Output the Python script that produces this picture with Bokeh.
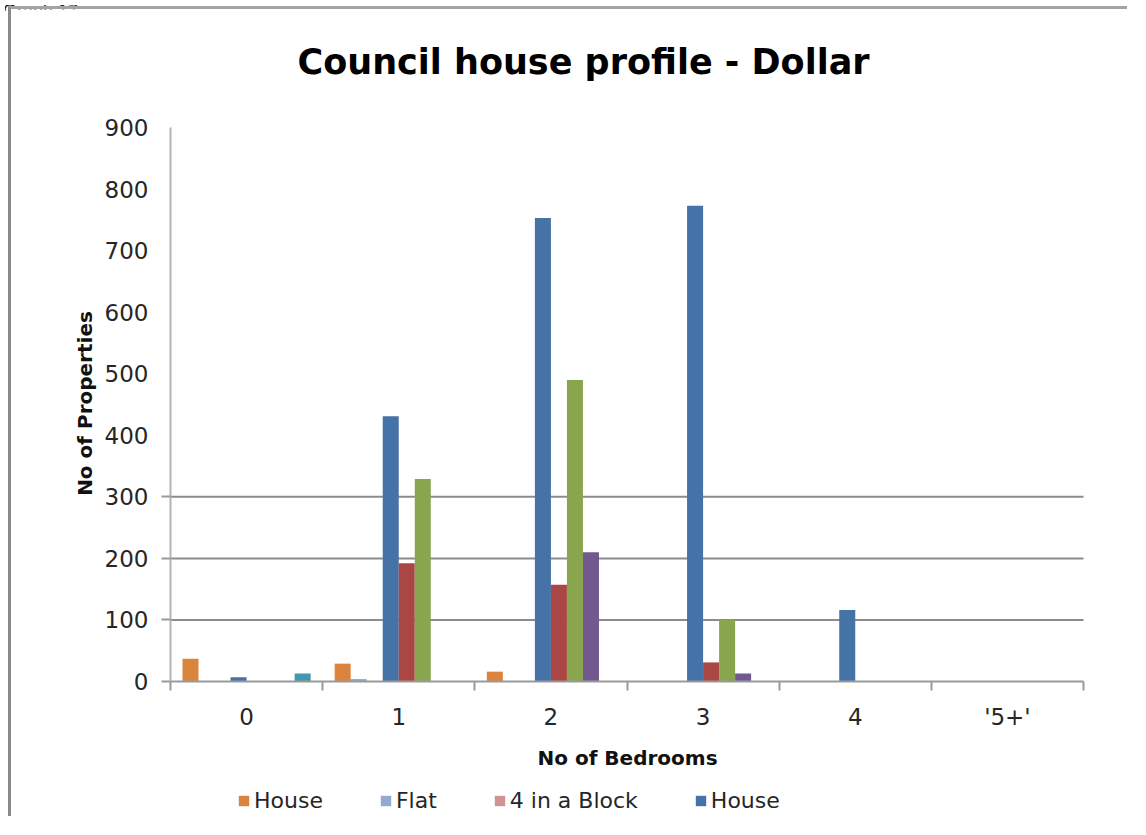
import math
from bokeh.plotting import figure
from bokeh.models import Range1d, FixedTicker, Legend, LegendItem, Div, Label
from bokeh.layouts import column
from bokeh.embed import file_html
from bokeh.resources import INLINE

# ---- data ----
categories = ["0", "1", "2", "3", "4", "'5+'"]
house_a = [37, 29, 16, 0, 0, 0]
flat = [0, 4, 0, 0, 0, 0]
block4 = [0, 0, 0, 0, 0, 0]
house_b = [7, 431, 753, 773, 116, 0]
series_red = [0, 192, 157, 31, 0, 0]
series_green = [0, 329, 490, 100, 0, 0]
series_purple = [0, 0, 210, 13, 0, 0]
series_teal = [13, 0, 0, 0, 0, 0]

series_values = [house_a, flat, block4, house_b, series_red, series_green, series_purple, series_teal]
series_names = ["House", "Flat", "4 in a Block", "House", "", "", "", ""]
series_colors = ["#DB843D", "#93A9CF", "#D19392", "#4572A7", "#AA4643", "#89A54E", "#71588F", "#4198AF"]
y_ticks = [0, 100, 200, 300, 400, 500, 600, 700, 800, 900]
grid_ticks = [100, 200, 300]
y_max = 900
title_text = "Council house profile - Dollar"
x_title = "No of Bedrooms"
y_title = "No of Properties"

# ---- layout (page pixels) ----
W, H = 1119, 810
CANVAS_X, CANVAS_Y = 11, 9              # canvas origin on the page
AX_LEFT, AX_RIGHT = 170, 1083           # plot area edges
AX_TOP, AX_ZERO = 127, 681              # value y_max and value 0
FONT = "DejaVu Sans"

ncat = len(categories)
px_x = (AX_RIGHT - AX_LEFT) / ncat
px_y = (AX_ZERO - AX_TOP) / y_max
x_start = -(AX_LEFT - CANVAS_X) / px_x
x_end = ncat + (CANVAS_X + W - AX_RIGHT) / px_x
y_end = y_max + (AX_TOP - CANVAS_Y) / px_y
y_start = -(CANVAS_Y + H - AX_ZERO) / px_y


def dx(px):
    return (px - AX_LEFT) / px_x


def dy(py):
    return (AX_ZERO - py) / px_y


p = figure(width=W, height=H, output_backend="svg", toolbar_location=None, title=None,
           x_range=Range1d(x_start, x_end), y_range=Range1d(y_start, y_end),
           min_border_left=0, min_border_right=0, min_border_top=0, min_border_bottom=0)
p.margin = (-10, 0, 0, 8)
p.styles = {"border-left": "3px solid #8a8a8a", "border-top": "3px solid #a3a3a3"}
p.outline_line_color = None
p.background_fill_color = "white"
p.border_fill_color = "white"
p.xgrid.visible = False
p.ygrid.visible = False

# horizontal gridlines (only 100-300 are drawn in the original)
p.segment(x0=[0] * len(grid_ticks), x1=[ncat] * len(grid_ticks), y0=grid_ticks, y1=grid_ticks,
          line_color="#8c8c8c", line_width=2)

n = len(series_values)
w = 1.0 / (n + 1.5)
renderers = []
for i, (vals, col) in enumerate(zip(series_values, series_colors)):
    xs = [k + 0.75 * w + (i + 0.5) * w for k in range(ncat)]
    r = p.vbar(x=xs, top=vals, bottom=0, width=w, fill_color=col, line_color=None)
    renderers.append(r)

# x axis (sits on value 0)
xa = p.xaxis[0]
xa.fixed_location = 0
xa.bounds = (0, ncat)
xa.ticker = FixedTicker(ticks=[k + 0.5 for k in range(ncat)], minor_ticks=list(range(ncat + 1)))
xa.major_label_overrides = {k + 0.5: c for k, c in enumerate(categories)}
xa.major_tick_line_color = None
xa.major_tick_out = 0
xa.major_tick_in = 0
xa.minor_tick_line_color = "#999999"
xa.minor_tick_line_width = 2
xa.minor_tick_out = 9
xa.minor_tick_in = 0
xa.axis_line_color = "#999999"
xa.axis_line_width = 2
xa.major_label_text_font = FONT
xa.major_label_text_font_size = "23px"
xa.major_label_text_color = "#262626"
xa.major_label_standoff = 13

# y axis (sits on x = 0)
ya = p.yaxis[0]
ya.fixed_location = 0
ya.bounds = (0, y_max)
ya.ticker = FixedTicker(ticks=y_ticks, minor_ticks=[0] + grid_ticks)
ya.major_tick_line_color = None
ya.major_tick_out = 0
ya.major_tick_in = 0
ya.minor_tick_line_color = "#999999"
ya.minor_tick_line_width = 2
ya.minor_tick_out = 9
ya.minor_tick_in = 0
ya.axis_line_color = "#b3b3b3"
ya.axis_line_width = 2
ya.major_label_text_font = FONT
ya.major_label_text_font_size = "23px"
ya.major_label_text_color = "#262626"
ya.major_label_standoff = 13

# titles
p.add_layout(Label(x=dx(583), y=dy(61), text=title_text, text_font=FONT, text_font_size="35px",
                   text_font_style="bold", text_color="black",
                   text_align="center", text_baseline="middle"))
p.add_layout(Label(x=dx(627), y=dy(757), text=x_title, text_font=FONT, text_font_size="20px",
                   text_font_style="bold", text_color="#111111",
                   text_align="center", text_baseline="middle"))
p.add_layout(Label(x=dx(84), y=dy(403), text=y_title, text_font=FONT, text_font_size="20px",
                   text_font_style="bold", text_color="#111111", angle=math.pi / 2,
                   text_align="center", text_baseline="middle"))

legend = Legend(items=[LegendItem(label=series_names[i], renderers=[renderers[i]]) for i in range(4)],
                orientation="horizontal", location=(237 - CANVAS_X, 6),
                border_line_color=None, background_fill_alpha=0,
                label_text_font=FONT, label_text_font_size="22px", label_text_color="#262626",
                glyph_width=13, glyph_height=13, label_standoff=4, spacing=56,
                padding=0, margin=0)
p.add_layout(legend, "center")

caption = Div(text="<div style=\"margin-top:-18px;margin-left:-2px;font-family:'Liberation Sans';"
                   "font-size:18px;line-height:18px;color:#222;white-space:nowrap\">Graph 17</div>",
              width=200, height=6,
              styles={"overflow": "hidden", "height": "6px", "max-height": "6px", "min-height": "0px"})

layout = column(caption, p, spacing=0)

open("out.html", "w").write(file_html(layout, INLINE))
